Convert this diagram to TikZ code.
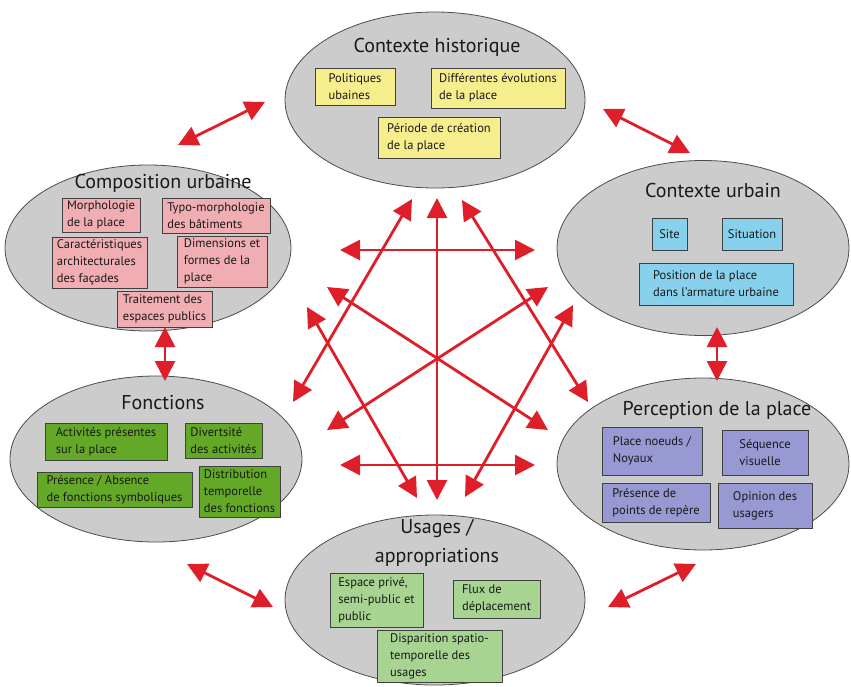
\documentclass[tikz,border=0pt]{standalone}
\usepackage{fontspec}
\setmainfont{PT Sans}
\usetikzlibrary{arrows.meta,shapes.geometric}

\definecolor{zonegray}{RGB}{205,204,204}
\definecolor{histoyellow}{RGB}{246,237,140}
\definecolor{compopink}{RGB}{240,174,178}
\definecolor{urbblue}{RGB}{135,209,236}
\definecolor{foncgreen}{RGB}{100,168,40}
\definecolor{percpurple}{RGB}{152,152,210}
\definecolor{usagreen}{RGB}{168,212,146}
\definecolor{linkred}{RGB}{222,30,40}

\begin{document}
\begin{tikzpicture}
  [
    x = 1pt, y = -1pt,
    zone/.style = {ellipse, draw=black!70, line width=0.8pt, fill=zonegray, inner sep=0pt},
    title/.style = {font=\fontsize{20}{29}\selectfont, text=black!90},
    item/.style = {draw=black!75, line width=0.7pt, align=left, inner sep=2pt,
                   font=\fontsize{12.5}{17}\selectfont, text=black!90},
    link/.style = {{Triangle[length=20pt,width=20pt]}-{Triangle[length=20pt,width=20pt]},
                   line width=2.8pt, draw=linkred},
  ]

  \useasboundingbox (0,0) rectangle (851,686);

  \node[zone, minimum width=300pt, minimum height=176pt] (histo) at (435,100) {};
  \node[zone, minimum width=286pt, minimum height=166pt] (compo) at (148,248) {};
  \node[zone, minimum width=292pt, minimum height=175pt] (urb) at (703,248) {};
  \node[zone, minimum width=292pt, minimum height=166pt] (fonc) at (156,459) {};
  \node[zone, minimum width=292pt, minimum height=172pt] (perc) at (703,464) {};
  \node[zone, minimum width=300pt, minimum height=170pt] (usa) at (435,600) {};

  \node[title] (histo-t) at (437,47) {Contexte historique};
  \node[item, fill=histoyellow, minimum width=80pt, minimum height=37pt] (pol) at (355,86.5) {Politiques\\ubaines};
  \node[item, fill=histoyellow, minimum width=134pt, minimum height=40pt] (diff) at (498,88) {Différentes évolutions\\de la place};
  \node[item, fill=histoyellow, minimum width=122pt, minimum height=41pt] (per) at (439,137.5) {Période de création\\de la place};

  \node[title] (compo-t) at (163,183) {Composition urbaine};
  \node[item, fill=compopink, minimum width=78pt, minimum height=34pt] (morph) at (101,215) {Morphologie\\de la place};
  \node[item, fill=compopink, minimum width=108pt, minimum height=35pt] (typo) at (216,215.5) {Typo-morphologie\\des bâtiments};
  \node[item, fill=compopink, minimum width=95pt, minimum height=51pt] (cara) at (99.5,262.5) {Caractéristiques\\architecturales\\des façades};
  \node[item, fill=compopink, minimum width=90pt, minimum height=51pt] (dim) at (222,261.5) {Dimensions et\\formes de la\\place};
  \node[item, fill=compopink, minimum width=95pt, minimum height=36pt] (trait) at (164.5,309) {Traitement des\\espaces publics};

  \node[title] (urb-t) at (713,190) {Contexte urbain};
  \node[item, fill=urbblue, minimum width=35pt, minimum height=32pt] (site) at (669.5,234) {Site};
  \node[item, fill=urbblue, minimum width=60pt, minimum height=32pt] (sit) at (752,234) {Situation};
  \node[item, fill=urbblue, minimum width=154pt, minimum height=42pt] (pos) at (716,284) {Position de la place\\dans l’armature urbaine};

  \node[title] (fonc-t) at (163,403) {Fonctions};
  \node[item, fill=foncgreen, minimum width=122pt, minimum height=37pt] (act) at (106,441.5) {Activités présentes\\sur la place};
  \node[item, fill=foncgreen, minimum width=77pt, minimum height=35pt] (div) at (223.5,440.5) {Divertsité\\des activités};
  \node[item, fill=foncgreen, minimum width=155pt, minimum height=35pt] (pres) at (114.5,489.5) {Présence / Absence\\de fonctions symboliques};
  \node[item, fill=foncgreen, minimum width=81pt, minimum height=51pt] (dist) at (239.5,491.5) {Distribution\\temporelle\\des fonctions};

  \node[title] (perc-t) at (717,410) {Perception de la place};
  \node[item, fill=percpurple, minimum width=100pt, minimum height=48pt] (noeuds) at (652,451) {Place noeuds /\\Noyaux};
  \node[item, fill=percpurple, minimum width=86pt, minimum height=45pt] (seq) at (765,452.5) {Séquence\\visuelle};
  \node[item, fill=percpurple, minimum width=108pt, minimum height=39pt] (rep) at (656,502.5) {Présence de\\points de repère};
  \node[item, fill=percpurple, minimum width=94pt, minimum height=45pt] (opin) at (765,505.5) {Opinion des\\usagers};

  \node[title, align=center] (usa-t) at (437,543) {Usages /\\appropriations};
  \node[item, fill=usagreen, minimum width=93pt, minimum height=54pt] (esp) at (376.5,600) {Espace privé,\\semi-public et\\public};
  \node[item, fill=usagreen, minimum width=87pt, minimum height=38pt] (flux) at (496.5,599) {Flux de\\déplacement};
  \node[item, fill=usagreen, minimum width=125pt, minimum height=52pt] (disp) at (439.5,656) {Disparition spatio-\\temporelle des\\usages};

  \coordinate (compo-histo-a) at (178,145);
  \coordinate (compo-histo-b) at (265,102);
  \coordinate (histo-urb-a) at (603,109);
  \coordinate (histo-urb-b) at (690,153);
  \coordinate (compo-fonc-a) at (165,327);
  \coordinate (compo-fonc-b) at (165,381);
  \coordinate (urb-perc-a) at (717,327);
  \coordinate (urb-perc-b) at (717,381);
  \coordinate (fonc-usa-a) at (187,564);
  \coordinate (fonc-usa-b) at (273,607);
  \coordinate (usa-perc-a) at (608,607);
  \coordinate (usa-perc-b) at (696,564);

  \coordinate (histo-usa-a) at (437,198);
  \coordinate (histo-usa-b) at (437,500);
  \coordinate (compo-urb-a) at (340,250);
  \coordinate (compo-urb-b) at (535,250);
  \coordinate (fonc-perc-a) at (340,465);
  \coordinate (fonc-perc-b) at (535,465);
  \coordinate (compo-perc-a) at (327,287);
  \coordinate (compo-perc-b) at (548,430);
  \coordinate (urb-fonc-a) at (548,287);
  \coordinate (urb-fonc-b) at (327,430);
  \coordinate (histo-fonc-a) at (412,199);
  \coordinate (histo-fonc-b) at (293,402);
  \coordinate (compo-usa-a) at (307,307);
  \coordinate (compo-usa-b) at (417,498);
  \coordinate (histo-perc-a) at (462,200);
  \coordinate (histo-perc-b) at (588,402);
  \coordinate (urb-usa-a) at (573,305);
  \coordinate (urb-usa-b) at (465,497);

  \draw[link] (compo-histo-a) -- (compo-histo-b);
  \draw[link] (histo-urb-a) -- (histo-urb-b);
  \draw[link] (compo-fonc-a) -- (compo-fonc-b);
  \draw[link] (urb-perc-a) -- (urb-perc-b);
  \draw[link] (fonc-usa-a) -- (fonc-usa-b);
  \draw[link] (usa-perc-a) -- (usa-perc-b);

  \draw[link] (histo-usa-a) -- (histo-usa-b);
  \draw[link] (compo-urb-a) -- (compo-urb-b);
  \draw[link] (fonc-perc-a) -- (fonc-perc-b);
  \draw[link] (compo-perc-a) -- (compo-perc-b);
  \draw[link] (urb-fonc-a) -- (urb-fonc-b);
  \draw[link] (histo-fonc-a) -- (histo-fonc-b);
  \draw[link] (compo-usa-a) -- (compo-usa-b);
  \draw[link] (histo-perc-a) -- (histo-perc-b);
  \draw[link] (urb-usa-a) -- (urb-usa-b);
\end{tikzpicture}
\end{document}
